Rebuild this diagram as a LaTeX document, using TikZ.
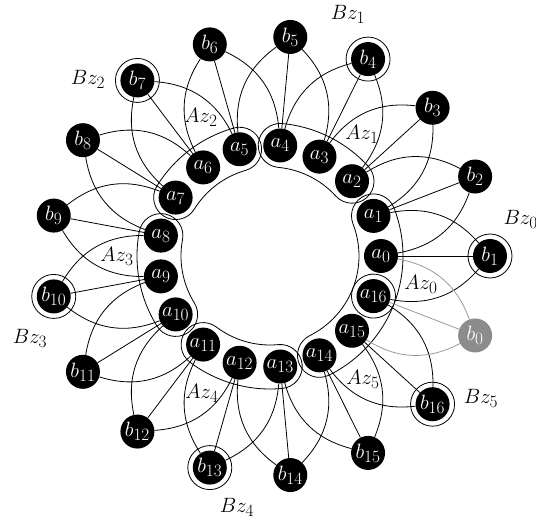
\documentclass[tikz,border=0pt]{standalone}
\DeclareMathSizes{20.74}{20.74}{17.28}{14.4}
\begin{document}
\begin{tikzpicture}[x=1pt,y=1pt,
  anode/.style={circle,fill=black,text=white,minimum size=34pt,inner sep=0pt,font=\fontsize{20.74}{25}\selectfont},
  bnode/.style={anode},
  gnode/.style={anode,fill=black!45},
  edge/.style={line width=0.8pt},
  gedge/.style={line width=0.8pt,black!40},
  hull/.style={line width=0.8pt},
  ring/.style={line width=0.8pt},
  lab/.style={font=\fontsize{20.74}{25}\selectfont}]
\useasboundingbox (-270,-266) rectangle (266,256);
\def\da{21.17647}
\def\R{111}
\def\w{22}
% hulls
\foreach \s/\e in {-1/1,2/4,5/7,8/10,11/13,14/16}{
  \pgfmathsetmacro\ts{\s*\da}
  \pgfmathsetmacro\te{\e*\da}
  \pgfmathsetmacro\tsb{\ts+180}
  \pgfmathsetmacro\tsc{\ts+360}
  \pgfmathsetmacro\teb{\te+180}
  \pgfmathsetmacro\ro{\R+\w}
  \pgfmathsetmacro\ri{\R-\w}
  \draw[hull] (\ts:\ro pt) arc[start angle=\ts, end angle=\te, radius=\ro pt]
     arc[start angle=\te, end angle=\teb, radius=\w pt]
     arc[start angle=\te, end angle=\ts, radius=\ri pt]
     arc[start angle=\tsb, end angle=\tsc, radius=\w pt] -- cycle;
}
% inner nodes
\foreach \k in {0,...,16}{
  \node[anode] (a\k) at ({\k*\da}:111pt) {$a_{\k}$};
}
% outer nodes
\foreach \k in {1,...,16}{
  \node[bnode] (b\k) at ({(\k-1)*\da}:220pt) {$b_{\k}$};
}
\node[gnode] (b0) at ({16*\da}:220pt) {$b_0$};
% rings
\foreach \k in {1,4,7,10,13,16}{
  \draw[ring] (b\k.center) circle[radius=22pt];
}
% edges
\foreach \k in {1,...,16}{
  \pgfmathtruncatemacro\p{mod(\k+16,17)}
  \pgfmathtruncatemacro\q{mod(\k+15,17)}
  \draw[edge] (b\k) -- (a\p);
  \draw[edge] (b\k) to[bend right=30] (a\k);
  \draw[edge] (b\k) to[bend left=30] (a\q);
}
\draw[gedge] (b0) -- (a16);
\draw[gedge] (b0) to[bend right=30] (a0);
\draw[gedge] (b0) to[bend left=30] (a15);
% labels
\node[lab,anchor=west] (Bz0) at (230,37) {$Bz_0$};
\node[lab] (Bz1) at (78,242) {$Bz_1$};
\node[lab] (Bz2) at (-182,177) {$Bz_2$};
\node[lab] (Bz3) at (-240,-82) {$Bz_3$};
\node[lab] (Bz4) at (-33,-251) {$Bz_4$};
\node[lab] (Bz5) at (211,-142) {$Bz_5$};
\node[lab] (Az0) at (151,-28) {$Az_0$};
\node[lab] (Az1) at (92,122) {$Az_1$};
\node[lab] (Az2) at (-69,139) {$Az_2$};
\node[lab] (Az3) at (-153,0) {$Az_3$};
\node[lab] (Az4) at (-68,-137) {$Az_4$};
\node[lab] (Az5) at (93,-123) {$Az_5$};
\end{tikzpicture}
\end{document}
